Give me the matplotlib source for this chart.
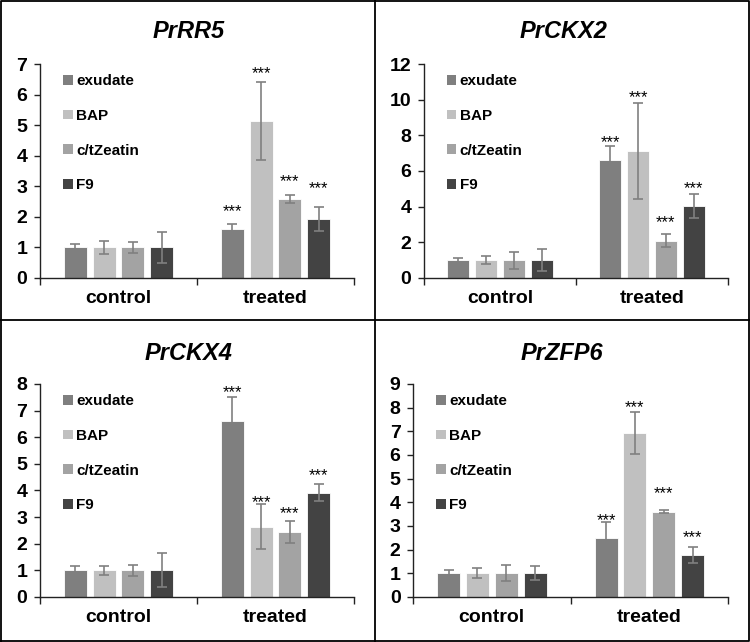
import matplotlib
matplotlib.use("Agg")
import matplotlib.pyplot as plt
from matplotlib.patches import Patch
from matplotlib.lines import Line2D

plt.rcParams["font.family"] = ["Liberation Sans", "DejaVu Sans"]
plt.rcParams["font.weight"] = "bold"

# --- data ---
groups = ["control", "treated"]
treatments = ["exudate", "BAP", "c/tZeatin", "F9"]
colors = ["#7f7f7f", "#c0c0c0", "#a3a3a3", "#434343"]

genes = ["PrRR5", "PrCKX2", "PrCKX4", "PrZFP6"]
ymax = [7, 12, 8, 9]
ystep = [1, 2, 1, 1]

# mean values, [control, treated] per treatment
rr5_mean = [[1, 1.59], [1, 5.14], [1, 2.58], [1, 1.94]]
rr5_err = [[0.11, 0.17], [0.20, 1.28], [0.18, 0.14], [0.52, 0.39]]
rr5_stars = [2.32, 6.83, 3.30, 3.08]

ckx2_mean = [[1, 6.6], [1, 7.12], [1, 2.09], [1, 4.05]]
ckx2_err = [[0.14, 0.82], [0.21, 2.67], [0.47, 0.37], [0.62, 0.67]]
ckx2_stars = [7.86, 10.36, 3.38, 5.28]

ckx4_mean = [[1, 6.6], [1, 2.64], [1, 2.43], [1, 3.92]]
ckx4_err = [[0.16, 0.91], [0.17, 0.85], [0.21, 0.42], [0.64, 0.31]]
ckx4_stars = [7.83, 3.73, 3.29, 4.74]

zfp6_mean = [[1, 2.48], [1, 6.93], [1, 3.61], [1, 1.78]]
zfp6_err = [[0.12, 0.70], [0.21, 0.90], [0.34, 0.08], [0.29, 0.35]]
zfp6_stars = [3.42, 8.20, 4.54, 2.71]

means = [rr5_mean, ckx2_mean, ckx4_mean, zfp6_mean]
errs = [rr5_err, ckx2_err, ckx4_err, zfp6_err]
stars = [rr5_stars, ckx2_stars, ckx4_stars, zfp6_stars]

# axes rectangles in figure fractions
rects = [
    (0.0533, 0.567, 0.4187, 0.3333),
    (0.5653, 0.567, 0.4053, 0.3333),
    (0.0533, 0.0701, 0.4187, 0.3318),
    (0.5507, 0.0701, 0.4200, 0.3318),
]
title_pos = [(189, 32), (564, 32), (189, 353), (562, 353)]

fig = plt.figure(figsize=(7.5, 6.42), dpi=100)

pitch = 0.183
width = 0.146

for k, gene in enumerate(genes):
    ax = fig.add_axes(rects[k])
    for i, tr in enumerate(treatments):
        xs = [g + (i - 1.5) * pitch for g in range(len(groups))]
        ax.bar(xs, means[k][i], width=width, color=colors[i],
               edgecolor="white", linewidth=0.6, label=tr, zorder=2)
        ax.errorbar(xs, means[k][i], yerr=errs[k][i], fmt="none",
                    ecolor="#808080", elinewidth=1.2, capsize=3.5,
                    capthick=1.2, zorder=3)
        ax.annotate("***", (xs[1], stars[k][i]), xytext=(0, -6.5),
                    textcoords="offset points", ha="center", va="baseline",
                    fontsize=12, fontweight="normal")

    ax.set_xlim(-0.5, 1.5)
    ax.set_ylim(0, ymax[k])
    ax.set_yticks(range(0, ymax[k] + 1, ystep[k]))
    ax.set_xticks([0, 1])
    ax.set_xticklabels(groups, fontsize=14, fontweight="bold")
    ax.set_xticks([-0.5, 0.5, 1.5], minor=True)
    ax.tick_params(axis="x", which="major", length=0, pad=9)
    ax.tick_params(axis="x", which="minor", length=5, width=1, color="#222222")
    ax.tick_params(axis="y", length=4, width=1, color="#222222", labelsize=14, pad=5)
    for lab in ax.get_yticklabels():
        lab.set_fontweight("bold")
    for side in ["top", "right"]:
        ax.spines[side].set_visible(False)
    for side in ["left", "bottom"]:
        ax.spines[side].set_color("#222222")
        ax.spines[side].set_linewidth(1)

    handles = [Patch(facecolor=c, edgecolor="none") for c in colors]
    ax.legend(handles, treatments, loc="upper left", bbox_to_anchor=(0.055, 0.98),
              frameon=False, prop={"size": 11, "weight": "bold"},
              handlelength=0.6, handleheight=0.6, handletextpad=0.25,
              labelspacing=1.35, borderaxespad=0)

    tx, ty = title_pos[k]
    fig.text(tx / 750, 1 - ty / 642, gene, ha="center", va="center",
             fontsize=17, fontweight="bold", fontstyle="italic")

# panel frame lines
frame_kw = dict(color="black", linewidth=1.3, transform=fig.transFigure)
fig.add_artist(Line2D([0.001, 0.999, 0.999, 0.001, 0.001],
                      [0.001, 0.001, 0.999, 0.999, 0.001], **frame_kw))
fig.add_artist(Line2D([0.5, 0.5], [0, 1], **frame_kw))
fig.add_artist(Line2D([0, 1], [1 - 320 / 642, 1 - 320 / 642], **frame_kw))

fig.savefig("out.png", dpi=100)
